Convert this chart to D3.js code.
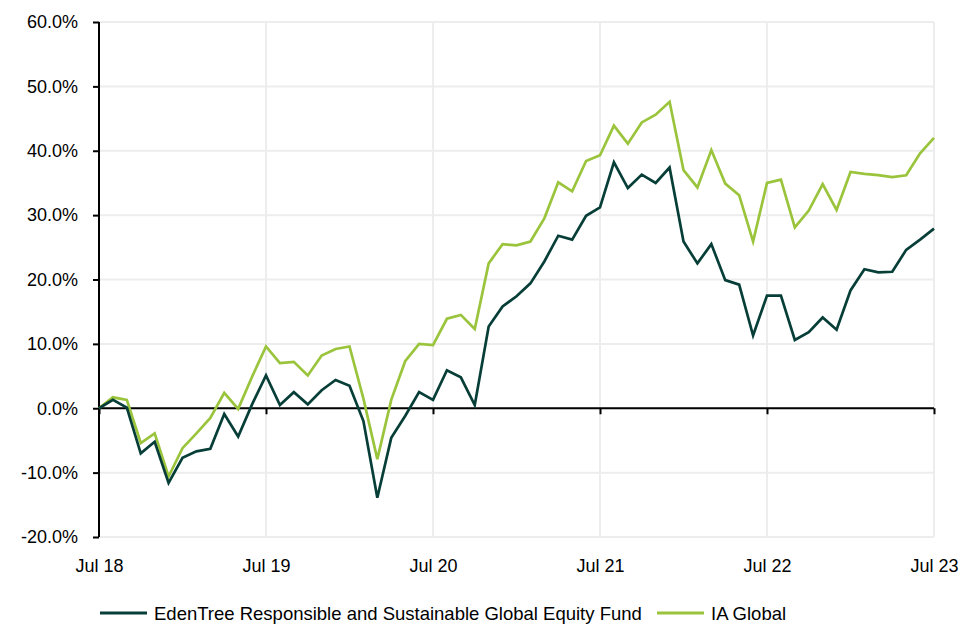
<!DOCTYPE html>
<html lang="en">
<head>
<meta charset="utf-8">
<script src="https://cdn.jsdelivr.net/npm/d3@7/dist/d3.min.js"></script>
<style type="text/css">
body { margin: 0; background: #fff; font-family: "Liberation Sans", Arial, sans-serif; }
.tick text { font-size: 18px; fill: #000; }
</style>
</head>
<body>
<script type="text/javascript">

// monthly cumulative returns (%), Jul 18 .. Jul 23
var months = d3.range(0, 61);
var edenTree = [0, 1.3, 0.1, -7.0, -5.2, -11.6, -7.7, -6.7, -6.3, -0.9,
	-4.4, 0.6, 5.1, 0.5, 2.5, 0.6, 2.8, 4.4, 3.5, -2.0,
	-13.9, -4.6, -1.2, 2.5, 1.3, 5.9, 4.8, 0.5, 12.7, 15.8,
	17.4, 19.4, 22.8, 26.8, 26.2, 29.9, 31.2, 38.2, 34.2, 36.3,
	35.0, 37.4, 25.9, 22.5, 25.5, 19.9, 19.2, 11.3, 17.5, 17.5,
	10.6, 11.8, 14.1, 12.2, 18.3, 21.6, 21.1, 21.2, 24.6, 26.2, 27.9];
var iaGlobal = [0, 1.7, 1.3, -5.4, -3.9, -10.6, -6.2, -3.9, -1.5, 2.4,
	-0.1, 4.9, 9.6, 7.0, 7.2, 5.1, 8.2, 9.2, 9.6, 1.5,
	-7.9, 1.3, 7.3, 10.0, 9.8, 13.9, 14.5, 12.3, 22.5, 25.5,
	25.3, 25.9, 29.5, 35.1, 33.7, 38.4, 39.3, 43.9, 41.1, 44.4,
	45.6, 47.6, 37.0, 34.3, 40.1, 34.9, 33.1, 25.9, 35.0, 35.5,
	28.1, 30.7, 34.8, 30.8, 36.7, 36.4, 36.2, 35.9, 36.2, 39.6, 42.0];
var xTickMonths = [0, 12, 24, 36, 48, 60];
var xTickLabels = ["Jul 18", "Jul 19", "Jul 20", "Jul 21", "Jul 22", "Jul 23"];
var yTicks = [-20, -10, 0, 10, 20, 30, 40, 50, 60];
var seriesNames = ["EdenTree Responsible and Sustainable Global Equity Fund", "IA Global"];
var seriesColors = ["#073f38", "#9bc43d"];

var width = 963, height = 624;
var plotL = 99, plotR = 934, plotT = 22, plotB = 537;

var x = d3.scaleLinear().domain([0, 60]).range([plotL, plotR]);
var y = d3.scaleLinear().domain([-20, 60]).range([plotB, plotT]);

var svg = d3.select("body").append("svg")
	.attr("width", width)
	.attr("height", height);

// gridlines
svg.append("g").selectAll("line")
	.data(yTicks).enter().append("line")
	.attr("x1", plotL).attr("x2", plotR)
	.attr("y1", d => y(d)).attr("y2", d => y(d))
	.style("stroke", "#ededed").style("stroke-width", 2);
svg.append("g").selectAll("line")
	.data(xTickMonths.slice(1)).enter().append("line")
	.attr("x1", d => x(d)).attr("x2", d => x(d))
	.attr("y1", plotT).attr("y2", plotB)
	.style("stroke", "#ededed").style("stroke-width", 2);

// y axis
var yAxis = d3.axisLeft(y)
	.tickValues(yTicks)
	.tickSize(6)
	.tickPadding(15)
	.tickFormat(d => d.toFixed(1) + "%");
var gy = svg.append("g").attr("transform", "translate(" + plotL + ",0)").call(yAxis);
gy.select(".domain").attr("d", "M0," + plotT + "V" + plotB).style("stroke", "#000").style("stroke-width", 2);
gy.selectAll(".tick line").style("stroke", "#000").style("stroke-width", 2);

// x axis on zero line
var xAxis = d3.axisBottom(x)
	.tickValues(xTickMonths)
	.tickSize(6)
	.tickFormat((d, i) => xTickLabels[i]);
var gx = svg.append("g").attr("transform", "translate(0," + y(0) + ")").call(xAxis);
gx.select(".domain").attr("d", "M" + plotL + ",0H" + plotR).style("stroke", "#000").style("stroke-width", 2);
gx.selectAll(".tick line").style("stroke", "#000").style("stroke-width", 2);
gx.selectAll(".tick text").attr("y", y(-20) - y(0) + 29).attr("dy", "0.35em");

// lines
var line = d3.line().x((d, i) => x(months[i])).y(d => y(d));
[iaGlobal, edenTree].forEach(function(s, k) {
	svg.append("path")
		.datum(s)
		.attr("d", line)
		.style("fill", "none")
		.style("stroke", seriesColors[1 - k])
		.style("stroke-width", 2.7);
});

// legend
var legend = svg.append("g").attr("transform", "translate(0,613)");
var legX = [100, 657];
seriesNames.forEach(function(n, i) {
	legend.append("line")
		.attr("x1", legX[i]).attr("x2", legX[i] + 47)
		.attr("y1", 0).attr("y2", 0)
		.style("stroke", seriesColors[i]).style("stroke-width", 3);
	legend.append("text")
		.attr("x", legX[i] + 54).attr("y", 0).attr("dy", "0.38em")
		.style("font-size", "18.5px")
		.text(n);
});

</script>
</body>
</html>
